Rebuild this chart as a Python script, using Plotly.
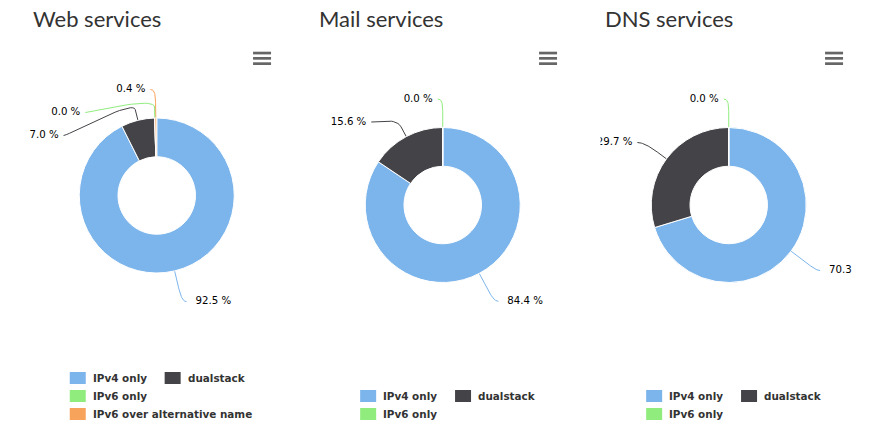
import math
import plotly.graph_objects as go

# ---------------- data ----------------
categories = ["IPv4 only", "dualstack", "IPv6 only", "IPv6 over alternative name"]
slice_colors = ["#7cb5ec", "#434348", "#90ed7d", "#f7a35c"]

chart_titles = ["Web services", "Mail services", "DNS services"]
web_values = [92.5, 7.0, 0.0, 0.4]
mail_values = [84.4, 15.6, 0.0]
dns_values = [70.3, 29.7, 0.0]
series_values = [web_values, mail_values, dns_values]

# ---------------- layout constants ----------------
W, H = 888, 437
CHART_STEP = 286
CHART_LEFT0 = 28.5
CLIP_W = 252.5
CX0 = 156.75
R_OUT = 77.5
LABEL_DIST = 30
CONN_OFF = 11
LABEL_GAP = 23
LEG_ROW_H = 18
LEG_LAST_Y = 414
LEG_MAXW = 240
LEG_CHAR_W = 6.1
LEG_ITEM_DIST = 18

fig = go.Figure()
shapes = []
annotations = []


def px_x(v):
    return v / W


def px_y(v):
    return 1 - v / H


for ci, (title, vals) in enumerate(zip(chart_titles, series_values)):
    left = CHART_LEFT0 + CHART_STEP * ci
    cx = CX0 + CHART_STEP * ci
    labels = categories[:len(vals)]
    cols = slice_colors[:len(vals)]

    # ---- legend layout (wrap like highcharts) ----
    rows = [[]]
    cur_w = 0
    for lab in labels:
        iw = 22 + len(lab) * LEG_CHAR_W
        need = iw if not rows[-1] else cur_w + LEG_ITEM_DIST + iw
        if rows[-1] and need > LEG_MAXW:
            rows.append([lab])
            cur_w = iw
        else:
            rows[-1].append(lab)
            cur_w = need
    row_widths = [sum(22 + len(l) * LEG_CHAR_W for l in row) + LEG_ITEM_DIST * (len(row) - 1) for row in rows]
    nrows = len(rows)
    cy = 224 - 9.5 * nrows
    leg_start = cx - max(row_widths) / 2 + 3.3
    for k, row in enumerate(rows):
        ry = LEG_LAST_Y - (nrows - 1 - k) * LEG_ROW_H
        xx = leg_start
        for lab in row:
            col = cols[labels.index(lab)]
            shapes.append(dict(type="rect", xref="paper", yref="paper",
                               x0=px_x(xx), x1=px_x(xx + 16), y0=px_y(ry + 6), y1=px_y(ry - 6),
                               fillcolor=col, line=dict(width=0)))
            annotations.append(dict(xref="paper", yref="paper", x=px_x(xx + 21), y=px_y(ry),
                                    xanchor="left", yanchor="middle", showarrow=False, text="<b>" + lab + "</b>",
                                    font=dict(family="DejaVu Sans", size=10.4, color="#333333")))
            xx += 22 + len(lab) * LEG_CHAR_W + LEG_ITEM_DIST

    # ---- pie ----
    fig.add_trace(go.Pie(
        values=vals, labels=labels, sort=False, direction="clockwise", rotation=0,
        hole=0.5, textinfo="none", showlegend=False, hoverinfo="skip",
        marker=dict(colors=cols, line=dict(color="white", width=1)),
        domain=dict(x=[px_x(cx - R_OUT), px_x(cx + R_OUT)], y=[px_y(cy + R_OUT), px_y(cy - R_OUT)]),
    ))

    # ---- data labels with connectors ----
    total = sum(vals)
    RL = R_OUT + LABEL_DIST
    pts = []
    cum = 0
    for v, col in zip(vals, cols):
        a0 = cum / total * 360
        cum += v
        a1 = cum / total * 360
        mid = math.radians((a0 + a1) / 2)
        dx, dy = math.sin(mid), -math.cos(mid)
        pts.append(dict(v=v, col=col, dx=dx, dy=dy, left=(a0 + a1) / 2 > 180,
                        ny=cy + RL * dy))
    xa = "x" if ci == 0 else "x%d" % (ci + 1)
    ya = "y" if ci == 0 else "y%d" % (ci + 1)
    for half in (True, False):
        group = sorted([p for p in pts if p["left"] == half], key=lambda p: p["ny"])
        prev = None
        for p in group:
            y = p["ny"] if prev is None else max(p["ny"], prev + LABEL_GAP)
            prev = y
            d2 = RL ** 2 - (y - cy) ** 2
            off = math.sqrt(d2) if d2 > 0 else 0
            x = cx - off if half else cx + off
            yl = y + 1.5
            p2 = (cx + (R_OUT + CONN_OFF) * p["dx"], cy + (R_OUT + CONN_OFF) * p["dy"])
            p4 = (cx + R_OUT * p["dx"], cy + R_OUT * p["dy"])
            P0 = (x - 5 if half else x + 5, yl)
            C1 = (x, yl)
            C2 = (2 * p2[0] - p4[0], 2 * p2[1] - p4[1])
            bx, by = [], []
            for s in range(21):
                t = s / 20
                u = 1 - t
                bx.append(u ** 3 * P0[0] + 3 * u * u * t * C1[0] + 3 * u * t * t * C2[0] + t ** 3 * p2[0])
                by.append(u ** 3 * P0[1] + 3 * u * u * t * C1[1] + 3 * u * t * t * C2[1] + t ** 3 * p2[1])
            bx.append(p4[0])
            by.append(p4[1])
            fig.add_trace(go.Scatter(x=bx, y=by, mode="lines", xaxis=xa, yaxis=ya,
                                     line=dict(color=p["col"], width=1), hoverinfo="skip",
                                     showlegend=False, cliponaxis=True))
            tx = x - 10 if half else x + 14
            fig.add_trace(go.Scatter(x=[tx], y=[yl], mode="text", xaxis=xa, yaxis=ya,
                                     text=["%.1f %%" % p["v"]],
                                     textposition="middle left" if half else "middle right",
                                     textfont=dict(family="DejaVu Sans", size=10.2, color="#000000"),
                                     hoverinfo="skip", showlegend=False, cliponaxis=True))

    # axes for label clipping
    ax_kw = dict(visible=False, fixedrange=True, showgrid=False, zeroline=False)
    fig.update_layout(**{
        ("xaxis" if ci == 0 else "xaxis%d" % (ci + 1)): dict(domain=[px_x(left), px_x(left + CLIP_W)],
                                                          range=[left, left + CLIP_W], anchor=ya, **ax_kw),
        ("yaxis" if ci == 0 else "yaxis%d" % (ci + 1)): dict(domain=[0, 1], range=[H, 0], anchor=xa, **ax_kw),
    })

    # ---- title ----
    annotations.append(dict(xref="paper", yref="paper", x=px_x(left + 2), y=px_y(18.5),
                            xanchor="left", yanchor="middle", showarrow=False, text=title,
                            font=dict(family="Lato", size=22, color="#333333")))

    # ---- menu icon ----
    for k in range(3):
        y0 = 51.7 + 5.3 * k
        shapes.append(dict(type="rect", xref="paper", yref="paper",
                           x0=px_x(cx + 96.3), x1=px_x(cx + 114.3), y0=px_y(y0 + 2.7), y1=px_y(y0),
                           fillcolor="#666666", line=dict(width=0)))

fig.update_layout(
    width=W, height=H, autosize=False,
    margin=dict(l=0, r=0, t=0, b=0, pad=0),
    paper_bgcolor="white", plot_bgcolor="rgba(0,0,0,0)",
    showlegend=False, shapes=shapes, annotations=annotations,
)

fig.write_html("out.html", config={"displayModeBar": False})
